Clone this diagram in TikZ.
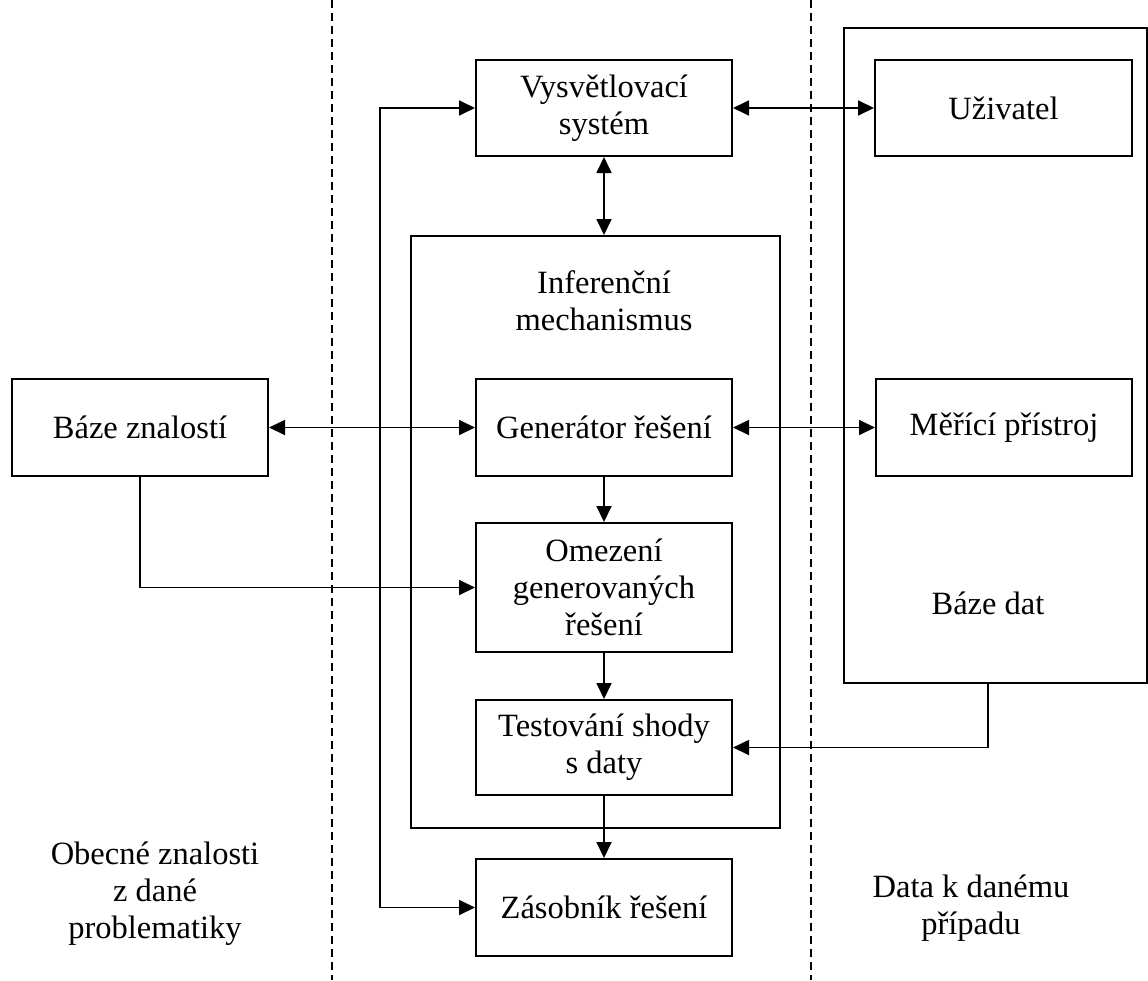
\documentclass[tikz,border=0pt]{standalone}
\usepackage{fontspec}
\setmainfont{Liberation Serif}
\usetikzlibrary{arrows.meta}
\tikzset{
  txt/.style={font=\fontsize{32.5}{37}\selectfont, align=center, inner sep=0pt},
  box/.style={draw, line width=2pt, txt, inner sep=0pt},
  conn/.style={line width=1.8pt, arrows={-Triangle[length=16pt,width=15pt]}},
  bconn/.style={line width=1.8pt, arrows={Triangle[length=16pt,width=15pt]-Triangle[length=16pt,width=15pt]}},
  sep/.style={line width=1.6pt, dash pattern=on 8pt off 5pt}
}
\begin{document}
\begin{tikzpicture}[x=1pt,y=-1pt]
\useasboundingbox (0,0) rectangle (1148,980);
% separators
\coordinate (d1t) at (332,0); \coordinate (d1b) at (332,980);
\coordinate (d2t) at (811,0); \coordinate (d2b) at (811,980);
\draw[sep] (d1t) -- (d1b);
\draw[sep] (d2t) -- (d2b);
% big boxes
\node[box, minimum width=303pt, minimum height=655pt] (bdat) at (995,355.5) {};
\node[box, minimum width=369pt, minimum height=592pt] (inf) at (595.5,532) {};
% boxes
\node[box, minimum width=256pt, minimum height=96pt] (vys) at (604,108) {Vysvětlovací\\systém};
\node[box, minimum width=257pt, minimum height=96pt] (uziv) at (1003.5,108) {Uživatel};
\node[box, minimum width=256pt, minimum height=97pt] (bzn) at (140,427.5) {Báze znalostí};
\node[box, minimum width=256pt, minimum height=97pt] (gen) at (604,427.5) {Generátor řešení};
\node[box, minimum width=256pt, minimum height=97pt] (mer) at (1004,427.5) {Měřící přístroj};
\node[box, minimum width=256pt, minimum height=129pt] (ome) at (604,587.5) {Omezení\\generovaných\\řešení};
\node[box, minimum width=256pt, minimum height=95pt] (test) at (604,747.5) {Testování shody\\s daty};
\node[box, minimum width=256pt, minimum height=97pt] (zas) at (604,907.5) {Zásobník řešení};
% free labels
\node[txt] (inflab) at (604,301) {Inferenční\\mechanismus};
\node[txt] (bdlab) at (988,603) {Báze dat};
\node[txt] (oblab) at (155,894) {Obecné znalosti\\z dané\\problematiky};
\node[txt] (dalab) at (971,908) {Data k danému\\případu};
% connectors
\draw[bconn] (vys.east) -- (uziv.west);
\draw[bconn] (vys.south) -- (vys.south |- inf.north);
\draw[bconn] (bzn.east) -- (gen.west);
\draw[bconn] (gen.east) -- (mer.west);
\draw[conn] (gen.south) -- (ome.north);
\draw[conn] (bzn.south) |- (ome.west);
\draw[conn] (ome.south) -- (test.north);
\draw[conn] (test.south) -- (zas.north);
\coordinate (bdo) at (988,683);
\draw[conn] (bdo) |- (test.east);
\coordinate (lp) at (380,907.5);
\draw[bconn] (vys.west) -| (lp) -- (zas.west);
\end{tikzpicture}
\end{document}
